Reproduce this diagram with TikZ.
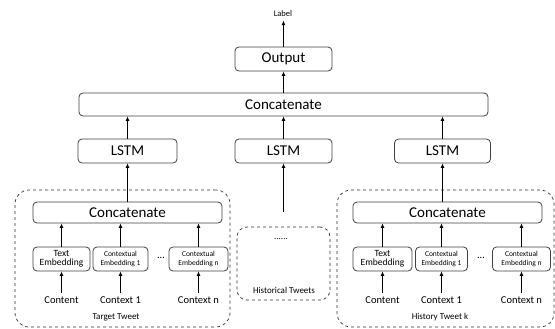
\documentclass[tikz,border=0pt]{standalone}
\usepackage{fontspec}
\setmainfont{Carlito}
\usetikzlibrary{arrows.meta}

\tikzset{
  box/.style={draw=black!75,fill=white,line width=0.8pt,rounded corners=4pt,inner sep=0pt,align=center},
  group/.style={draw=black!80,line width=0.7pt,dashed,rounded corners=14pt,inner sep=0pt},
  flow/.style={-{Latex[length=4.5pt,width=4pt]},line width=1.5pt},
  big/.style={font=\fontsize{15}{17}\selectfont},
  emb/.style={font=\fontsize{9.5}{10}\selectfont},
  ctx/.style={font=\fontsize{7.5}{8.5}\selectfont},
  src/.style={font=\fontsize{10.5}{12}\selectfont},
  caption/.style={font=\fontsize{9}{10}\selectfont}
}

\begin{document}
\begin{tikzpicture}
  [x=1pt,y=-1pt]
  \useasboundingbox (0,0) rectangle (555,329);

  % dashed groups
  \node[group,minimum width=215pt,minimum height=137pt] (tgt) at (122.5,258.5) {};
  \node[group,minimum width=217pt,minimum height=137pt] (hst) at (445.5,258.5) {};
  \node[group,rounded corners=10pt,minimum width=93pt,minimum height=73pt] (mid) at (283.5,263.5) {};

  % top of the network
  \node[font=\fontsize{8.5}{9}\selectfont] (label) at (283,14) {Label};
  \node[box,big,minimum width=97pt,minimum height=24pt] (out) at (283.5,59) {Output};
  \node[box,big,minimum width=409pt,minimum height=23pt] (cat) at (283.5,104.5) {Concatenate};
  \node[box,big,minimum width=99pt,minimum height=24pt] (lstmA) at (127.5,151) {LSTM};
  \node[box,big,minimum width=97pt,minimum height=24pt] (lstmB) at (283.5,151) {LSTM};
  \node[box,big,minimum width=96pt,minimum height=24pt] (lstmC) at (442.5,151) {LSTM};
  \coordinate (histin) at (283.5,212);

  % target tweet
  \node[box,big,minimum width=189pt,minimum height=21pt] (catA) at (127.5,212.5) {Concatenate};
  \node[box,emb,minimum width=57pt,minimum height=24pt] (embA0) at (61.5,259) {Text\\[-1pt]Embedding};
  \node[box,ctx,minimum width=55pt,minimum height=24pt] (embA1) at (120.5,259) {Contextual\\Embedding 1};
  \node[box,ctx,minimum width=59pt,minimum height=24pt] (embAn) at (198.5,259) {Contextual\\Embedding n};
  \node[src] (dotsA) at (161,258) {...};
  \node[src] (inA0) at (61.5,300) {Content};
  \node[src] (inA1) at (120.5,300) {Context 1};
  \node[src] (inAn) at (198.5,300) {Context n};
  \node[caption] (tgtname) at (116,317) {Target Tweet};

  % historical tweets
  \node[caption] (hdots) at (281,239) {......};
  \node[caption] (hname) at (284,290) {Historical Tweets};

  % history tweet k
  \node[box,big,minimum width=189pt,minimum height=21pt] (catC) at (447.5,212.5) {Concatenate};
  \node[box,emb,minimum width=59pt,minimum height=24pt] (embC0) at (382.5,259) {Text\\[-1pt]Embedding};
  \node[box,ctx,minimum width=52pt,minimum height=24pt] (embC1) at (441.5,259) {Contextual\\Embedding 1};
  \node[box,ctx,minimum width=58pt,minimum height=24pt] (embCn) at (521.5,259) {Contextual\\Embedding n};
  \node[src] (dotsC) at (481,258) {...};
  \node[src] (inC0) at (382.5,300) {Content};
  \node[src] (inC1) at (441.5,300) {Context 1};
  \node[src] (inCn) at (521.5,300) {Context n};
  \node[caption] (hstname) at (440,317) {History Tweet k};

  % inputs into embeddings, embeddings into concatenation
  \foreach \grp in {A,C}{
    \foreach \k in {0,1,n}{
      \draw[flow] (in\grp\k.north) -- (emb\grp\k.south);
      \draw[flow] (emb\grp\k.north) -- (emb\grp\k.north |- cat\grp.south);
    }
  }

  \draw[flow] (catA.north) -- (lstmA.south);
  \draw[flow] (catC.north -| lstmC) -- (lstmC.south);
  \draw[flow] (histin) -- (lstmB.south);
  \foreach \l in {lstmA,lstmB,lstmC}
    \draw[flow] (\l.north) -- (\l.north |- cat.south);
  \draw[flow] (cat.north -| out) -- (out.south);
  \draw[flow] (out.north) -- (out.north |- label.south);

\end{tikzpicture}
\end{document}
